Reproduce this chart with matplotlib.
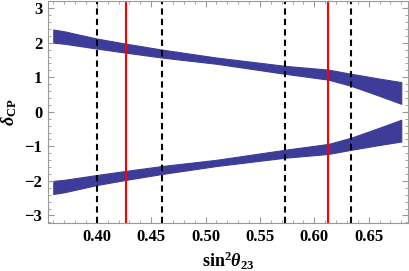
import numpy as np
import matplotlib
matplotlib.use("Agg")
import matplotlib.pyplot as plt
from matplotlib.ticker import MultipleLocator

# band edges of delta_CP (upper branch)
s23 = [0.360, 0.370, 0.400, 0.427, 0.460, 0.510, 0.573, 0.613, 0.634, 0.660, 0.680]
top = [2.38, 2.33, 2.12, 1.97, 1.80, 1.57, 1.33, 1.22, 1.10, 0.96, 0.86]
bot = [2.00, 1.97, 1.83, 1.71, 1.57, 1.39, 1.10, 0.93, 0.75, 0.46, 0.23]

# lower branch mirrors the upper one
low_top = [-b for b in bot]
low_bot = [-t for t in top]

dashed_x = [0.40, 0.46, 0.573, 0.634]
red_x = [0.427, 0.613]

plt.rcParams['mathtext.fontset'] = 'custom'
plt.rcParams['mathtext.rm'] = 'Liberation Serif:bold'
plt.rcParams['mathtext.it'] = 'Liberation Serif:italic:bold'
plt.rcParams['mathtext.bf'] = 'Liberation Serif:bold'

blue = "#3d3d99"
gray = "#999999"

fig = plt.figure(figsize=(4.09, 2.71), dpi=100)
ax = fig.add_axes([0.117, 0.177, 0.880, 0.821])

ax.fill_between(s23, bot, top, color=blue, lw=0.8, edgecolor=blue)
ax.fill_between(s23, low_bot, low_top, color=blue, lw=0.8, edgecolor=blue)

for x in dashed_x:
    ax.axvline(x, color="black", lw=1.5, ls=(0, (3, 2)))
for x in red_x:
    ax.axvline(x, color="red", lw=1.5)

ax.set_xlim(0.355, 0.686)
ax.set_ylim(-3.22, 3.22)
ax.xaxis.set_major_locator(MultipleLocator(0.05))
ax.xaxis.set_minor_locator(MultipleLocator(0.01))
ax.yaxis.set_major_locator(MultipleLocator(1))
ax.yaxis.set_minor_locator(MultipleLocator(0.2))
ax.xaxis.set_major_formatter(plt.FormatStrFormatter("%.2f"))
ax.yaxis.set_major_formatter(plt.FuncFormatter(lambda v, p: f"{int(v)}".replace("-", "\u2212")))

ax.tick_params(which="both", direction="in", top=True, right=True, color=gray,
               labelsize=12, pad=4)
ax.tick_params(which="major", length=4.5, width=0.8)
ax.tick_params(which="minor", length=2.5, width=0.6)
for lab in ax.get_xticklabels() + ax.get_yticklabels():
    lab.set_fontfamily("Liberation Serif")
    lab.set_fontweight("bold")
for sp in ax.spines.values():
    sp.set_color(gray)
    sp.set_linewidth(0.8)

ax.set_xlabel(r"$\mathrm{sin}^2\theta_{23}$", fontsize=13, labelpad=4)
ax.set_ylabel(r"$\delta_{\mathrm{CP}}$", fontsize=13, labelpad=4)

fig.savefig("out.png", dpi=100)
